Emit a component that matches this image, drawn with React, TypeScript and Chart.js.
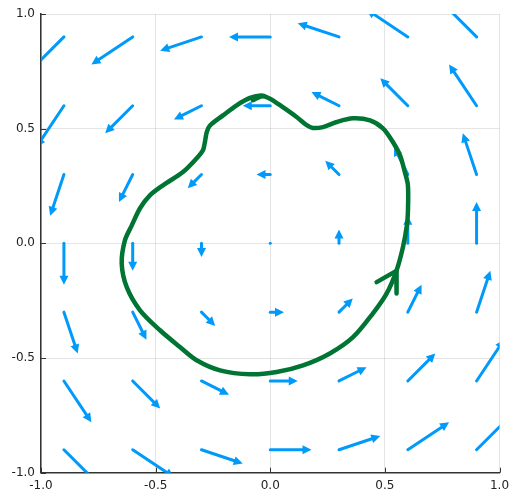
import { useEffect, useRef } from "react";
import { Chart, registerables } from "chart.js";
Chart.register(...registerables);

// Quiver grid
const gridX = [-0.9, -0.6, -0.3, 0, 0.3, 0.6, 0.9];
const gridY = [-0.9, -0.6, -0.3, 0, 0.3, 0.6, 0.9];
// U[row][col]: row follows gridY, col follows gridX
const U = [
  [0.18, 0.18, 0.18, 0.18, 0.18, 0.18, 0.18],
  [0.12, 0.12, 0.12, 0.12, 0.12, 0.12, 0.12],
  [0.06, 0.06, 0.06, 0.06, 0.06, 0.06, 0.06],
  [0, 0, 0, 0, 0, 0, 0],
  [-0.06, -0.06, -0.06, -0.06, -0.06, -0.06, -0.06],
  [-0.12, -0.12, -0.12, -0.12, -0.12, -0.12, -0.12],
  [-0.18, -0.18, -0.18, -0.18, -0.18, -0.18, -0.18],
];
const V = [
  [-0.18, -0.12, -0.06, 0, 0.06, 0.12, 0.18],
  [-0.18, -0.12, -0.06, 0, 0.06, 0.12, 0.18],
  [-0.18, -0.12, -0.06, 0, 0.06, 0.12, 0.18],
  [-0.18, -0.12, -0.06, 0, 0.06, 0.12, 0.18],
  [-0.18, -0.12, -0.06, 0, 0.06, 0.12, 0.18],
  [-0.18, -0.12, -0.06, 0, 0.06, 0.12, 0.18],
  [-0.18, -0.12, -0.06, 0, 0.06, 0.12, 0.18],
];

// Hand-drawn loop
const curveX = [
  -0.001, -0.0375, -0.0885, -0.1465, -0.206, -0.263, -0.277, -0.285, -0.2935, -0.321,
  -0.381, -0.468, -0.525, -0.568, -0.604, -0.634, -0.648, -0.626, -0.568, -0.481,
  -0.394, -0.321, -0.219, -0.0885, 0.028, 0.143, 0.26, 0.361, 0.448, 0.508,
  0.551, 0.579, 0.596, 0.6005, 0.6005, 0.587, 0.566, 0.535, 0.4915, 0.435,
  0.361, 0.29, 0.23, 0.186, 0.159, 0.115, 0.055, -0.001, -0.036, -0.0755,
];
const curveY = [
  0.631, 0.645, 0.634, 0.602, 0.558, 0.514, 0.485, 0.442, 0.406, 0.371,
  0.311, 0.253, 0.209, 0.153, 0.0785, 0.013, -0.087, -0.191, -0.292, -0.379,
  -0.452, -0.51, -0.554, -0.571, -0.561, -0.532, -0.48, -0.409, -0.305, -0.218,
  -0.118, -0.016, 0.0785, 0.1365, 0.253, 0.311, 0.384, 0.442, 0.5015, 0.536,
  0.545, 0.529, 0.507, 0.503, 0.515, 0.551, 0.594, 0.631, 0.641, 0.624,
];
const headX = [0.464, 0.55, 0.551];
const headY = [-0.169, -0.12, -0.219];

const tickValues = [-1, -0.5, 0, 0.5, 1];
const tickLabels = ["-1.0", "-0.5", "0.0", "0.5", "1.0"];

const ARROW_COLOR = "#009AFA";
const CURVE_COLOR = "rgb(0,116,50)";
const AXIS_COLOR = "#333333";

const quiverPlugin = {
  id: "quiver",
  beforeDatasetsDraw(chart: any) {
    const { ctx, chartArea, scales } = chart;
    const xs = scales.x;
    const ys = scales.y;
    ctx.save();
    ctx.beginPath();
    ctx.rect(chartArea.left, chartArea.top, chartArea.right - chartArea.left, chartArea.bottom - chartArea.top);
    ctx.clip();
    ctx.strokeStyle = ARROW_COLOR;
    ctx.fillStyle = ARROW_COLOR;
    ctx.lineWidth = 3;
    ctx.lineCap = "round";
    ctx.lineJoin = "round";
    for (let i = 0; i < gridY.length; i++) {
      for (let j = 0; j < gridX.length; j++) {
        const x0 = xs.getPixelForValue(gridX[j]);
        const y0 = ys.getPixelForValue(gridY[i]);
        const x1 = xs.getPixelForValue(gridX[j] + U[i][j]);
        const y1 = ys.getPixelForValue(gridY[i] + V[i][j]);
        const dx = x1 - x0;
        const dy = y1 - y0;
        const len = Math.hypot(dx, dy);
        if (len < 0.5) {
          ctx.beginPath();
          ctx.arc(x0, y0, 1.5, 0, Math.PI * 2);
          ctx.fill();
          continue;
        }
        const ux = dx / len;
        const uy = dy / len;
        const hl = 9;
        const hw = 4.5;
        const bx = x1 - ux * hl;
        const by = y1 - uy * hl;
        ctx.beginPath();
        ctx.moveTo(x0, y0);
        ctx.lineTo(bx + ux * 1, by + uy * 1);
        ctx.stroke();
        ctx.beginPath();
        ctx.moveTo(x1, y1);
        ctx.lineTo(bx - uy * hw, by + ux * hw);
        ctx.lineTo(bx + uy * hw, by - ux * hw);
        ctx.closePath();
        ctx.fill();
      }
    }
    ctx.restore();
  },
  afterDraw(chart: any) {
    const { ctx, chartArea, scales } = chart;
    ctx.save();
    ctx.strokeStyle = AXIS_COLOR;
    ctx.lineWidth = 1;
    for (const v of tickValues) {
      const px = Math.round(scales.x.getPixelForValue(v)) + 0.5;
      ctx.beginPath();
      ctx.moveTo(px, chartArea.bottom);
      ctx.lineTo(px, chartArea.bottom - 5);
      ctx.stroke();
      const py = Math.round(scales.y.getPixelForValue(v)) + 0.5;
      ctx.beginPath();
      ctx.moveTo(chartArea.left, py);
      ctx.lineTo(chartArea.left + 5, py);
      ctx.stroke();
    }
    ctx.restore();
  },
};

export default function App() {
  const ref = useRef<HTMLCanvasElement | null>(null);
  useEffect(() => {
    document.body.style.margin = "0";
    const canvas = ref.current;
    if (!canvas) return;
    const tickCallback = (value: any) => {
      const idx = tickValues.findIndex((t) => Math.abs(t - Number(value)) < 1e-9);
      return idx >= 0 ? tickLabels[idx] : "";
    };
    const chart = new Chart(canvas, {
      type: "scatter",
      data: {
        datasets: [
          {
            data: curveX.map((x, i) => ({ x, y: curveY[i] })),
            showLine: true,
            borderColor: CURVE_COLOR,
            backgroundColor: CURVE_COLOR,
            borderWidth: 4.5,
            pointRadius: 0,
            tension: 0.3,
            borderCapStyle: "round",
            borderJoinStyle: "round",
          },
          {
            data: headX.map((x, i) => ({ x, y: headY[i] })),
            showLine: true,
            borderColor: CURVE_COLOR,
            backgroundColor: CURVE_COLOR,
            borderWidth: 4.5,
            pointRadius: 0,
            tension: 0,
            borderCapStyle: "round",
            borderJoinStyle: "round",
          },
        ],
      },
      options: {
        animation: false,
        responsive: false,
        events: [],
        layout: { padding: { top: 14, right: 11.5, left: 0, bottom: 0 } },
        plugins: { legend: { display: false }, tooltip: { enabled: false } },
        scales: {
          x: {
            type: "linear",
            min: -1,
            max: 1,
            afterBuildTicks: (s: any) => {
              s.ticks = tickValues.map((v) => ({ value: v }));
            },
            afterFit: (s: any) => {
              s.height = 18.3;
              s.paddingLeft = 0;
              s.paddingRight = 0;
            },
            ticks: {
              callback: tickCallback,
              padding: 6,
              maxRotation: 0,
              autoSkip: false,
              color: "#222",
              font: { family: "DejaVu Sans", size: 12 },
            },
            grid: { color: "rgba(0,0,0,0.1)", lineWidth: 1, drawTicks: false },
            border: { display: true, color: AXIS_COLOR, width: 1.5 },
          },
          y: {
            type: "linear",
            min: -1,
            max: 1,
            afterBuildTicks: (s: any) => {
              s.ticks = tickValues.map((v) => ({ value: v }));
            },
            afterFit: (s: any) => {
              s.width = 41;
              s.paddingTop = 0;
              s.paddingBottom = 0;
            },
            ticks: {
              callback: tickCallback,
              padding: 6,
              autoSkip: false,
              color: "#222",
              font: { family: "DejaVu Sans", size: 12 },
            },
            grid: { color: "rgba(0,0,0,0.1)", lineWidth: 1, drawTicks: false },
            border: { display: true, color: AXIS_COLOR, width: 1.5 },
          },
        },
      },
      plugins: [quiverPlugin],
    } as any);
    return () => chart.destroy();
  }, []);
  return (
    <div style={{ position: "absolute", left: 0, top: 0, width: 511, height: 491 }}>
      <canvas ref={ref} width={511} height={491} style={{ display: "block", width: 511, height: 491 }} />
    </div>
  );
}
